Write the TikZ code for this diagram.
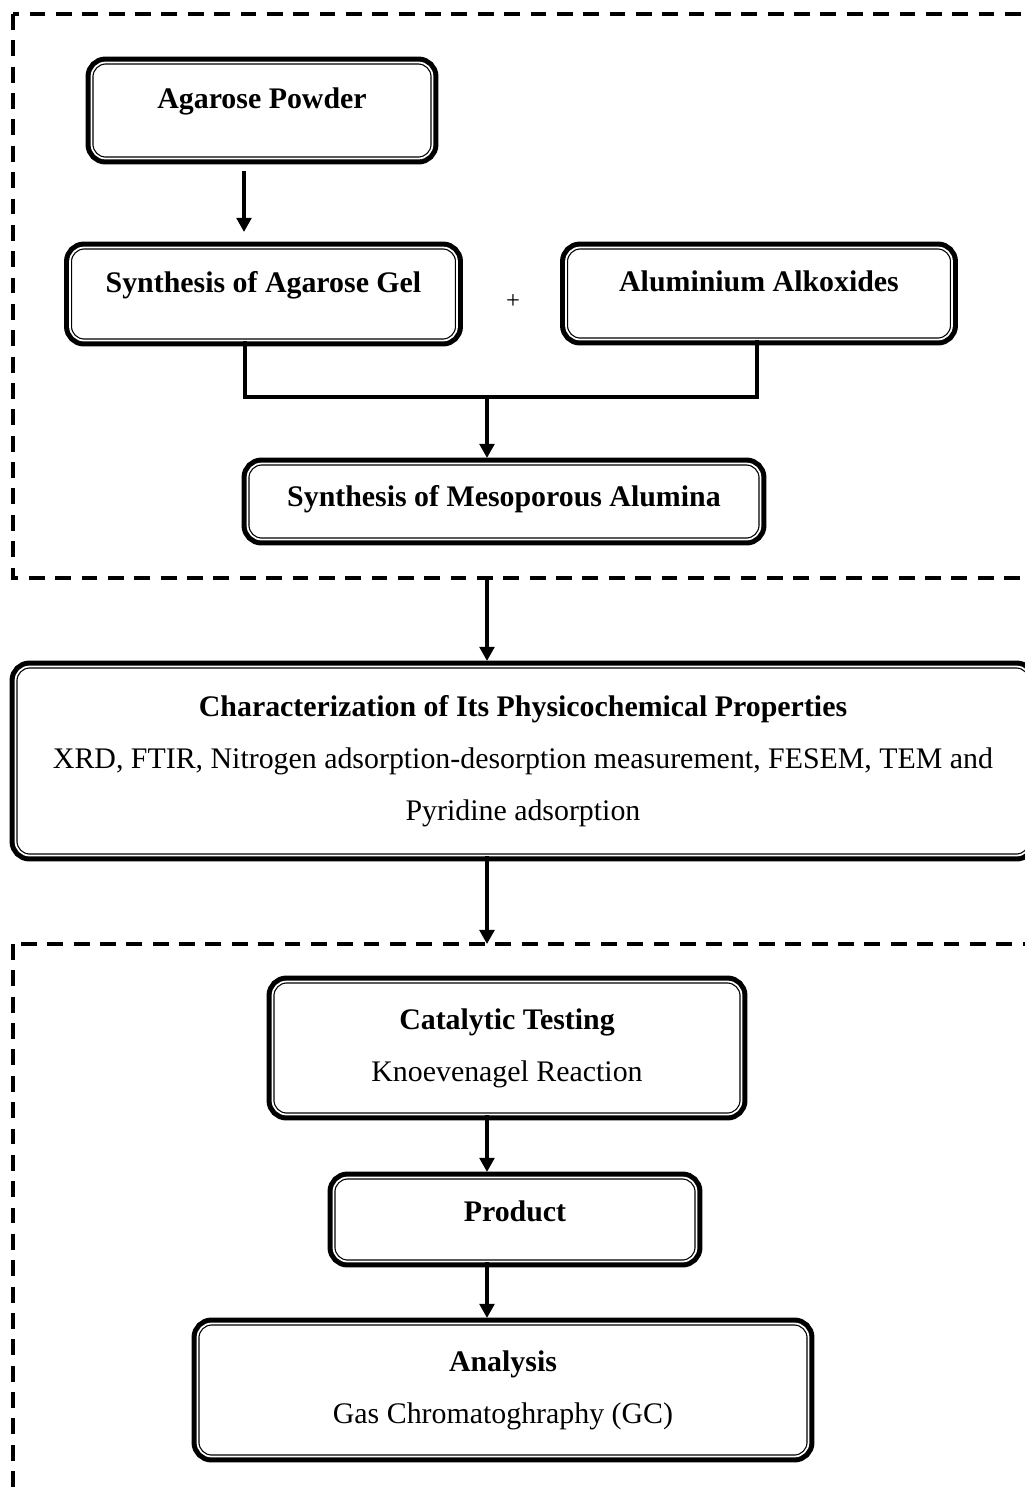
\documentclass[tikz,border=0pt]{standalone}
\usepackage{fontspec}
\setmainfont{Liberation Serif}
\usetikzlibrary{arrows.meta}

\begin{document}
\begin{tikzpicture}[
        box/.style={rounded corners=4pt, fill=white, draw, line width=0.34pt, double=white, double distance=0.5pt,
            preaction={draw, line width=3.4pt}, inner sep=0pt, align=center, font=\fontsize{8.5}{14.8}\selectfont},
        lift/.style={text height=6pt, text depth=#1},
        link/.style={line width=1.1pt},
        arr/.style={line width=0.9pt, -{Triangle[length=4pt,width=4.2pt]}, shorten >=0.5mm},
        dashbox/.style={line width=0.9pt, dash pattern=on 4.5pt off 3pt}]
        \clip (0,0) rectangle (10.25,-14.91);
        \draw[dashbox] (0.13,-0.14) rectangle (10.6,-5.78);
        \draw[dashbox] (0.13,-9.44) rectangle (10.6,-15.3);
        \node[box, minimum width=3.41cm, minimum height=0.96cm, lift=7.2pt] (powder) at (2.62,-1.105) {\textbf{Agarose Powder}};
        \node[box, minimum width=3.87cm, minimum height=0.93cm, lift=7pt] (gel) at (2.635,-2.94) {\textbf{Synthesis of Agarose Gel}};
        \node[box, minimum width=3.86cm, minimum height=0.92cm, lift=7pt] (alk) at (7.59,-2.935) {\textbf{Aluminium Alkoxides}};
        \node[font=\fontsize{7}{8}\selectfont] (plus) at (5.13,-3.02) {+};
        \node[box, minimum width=5.13cm, minimum height=0.76cm, lift=3pt] (meso) at (5.04,-5.015) {\textbf{Synthesis of Mesoporous Alumina}};
        \node[box, minimum width=10.15cm, minimum height=1.89cm] (char) at (5.23,-7.61) {\textbf{Characterization of Its Physicochemical Properties}\\XRD, FTIR, Nitrogen adsorption-desorption measurement, FESEM, TEM and\\Pyridine adsorption};
        \node[box, minimum width=4.69cm, minimum height=1.33cm] (cat) at (5.07,-10.48) {\textbf{Catalytic Testing}\\Knoevenagel Reaction};
        \node[box, minimum width=3.63cm, minimum height=0.84cm, lift=4.6pt] (prod) at (5.15,-12.195) {\textbf{Product}};
        \node[box, minimum width=6.11cm, minimum height=1.33cm] (ana) at (5.03,-13.90) {\textbf{Analysis}\\Gas Chromatoghraphy (GC)};
        \coordinate (join) at (4.87,-3.97);
        \coordinate (exit) at (4.87,-5.78);
        \coordinate (entry) at (4.87,-9.44);
        \draw[arr, shorten <=1.2mm, shorten >=1.5mm] (2.44,0 |- powder.south) -- (2.44,0 |- gel.north);
        \draw[link] (2.45,0 |- gel.south) |- (join) -| (7.57,0 |- alk.south);
        \draw[arr] (join) -- (join |- meso.north);
        \draw[arr] (exit) -- (exit |- char.north);
        \draw[arr, shorten >=0pt] (entry |- char.south) -- (entry);
        \draw[arr] (entry |- cat.south) -- (entry |- prod.north);
        \draw[arr] (entry |- prod.south) -- (entry |- ana.north);
    \end{tikzpicture}
\end{document}
